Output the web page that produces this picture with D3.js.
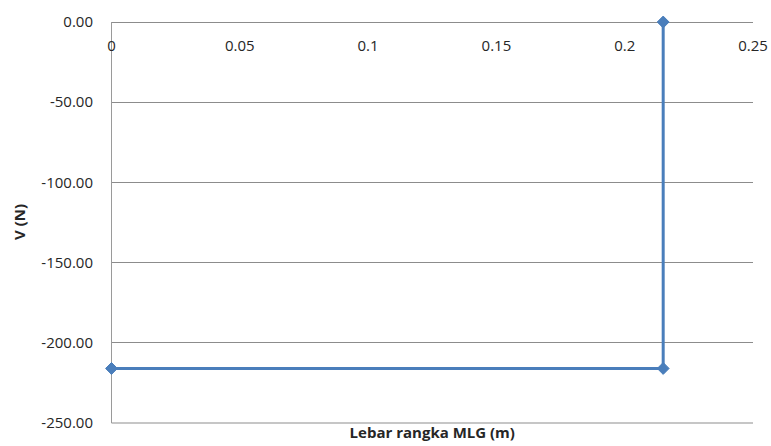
<!DOCTYPE html>
<html>
<head>
<meta charset="utf-8">
<script src="https://cdn.jsdelivr.net/npm/d3@7"></script>
<style>
  html, body { margin: 0; padding: 0; background: #fff; }
  svg text { font-family: "Open Sans", "Liberation Sans", sans-serif; fill: #262626; }
</style>
</head>
<body>
<svg id="chart" width="771" height="446"></svg>
<script>
// Shear force diagram across the MLG frame width
const widthM = [0, 0.215, 0.215];
const shearN = [-216, -216, 0];
const xTicks = [0, 0.05, 0.1, 0.15, 0.2, 0.25];
const xTickLabels = ["0", "0.05", "0.1", "0.15", "0.2", "0.25"];
const yTicks = [0, -50, -100, -150, -200, -250];
const xTitle = "Lebar rangka MLG (m)";
const yTitle = "V (N)";

const svg = d3.select("#chart");
const plotLeft = 111.5, plotRight = 753, plotTop = 22, plotBottom = 423;

const x = d3.scaleLinear().domain([0, 0.25]).range([plotLeft, plotRight]);
const y = d3.scaleLinear().domain([-250, 0]).range([plotBottom, plotTop]);

// Horizontal gridlines
svg.append("g").selectAll("line").data(yTicks.filter(v => v !== -250)).join("line")
  .attr("x1", plotLeft).attr("x2", plotRight)
  .attr("y1", d => y(d)).attr("y2", d => y(d))
  .attr("stroke", "#8c8c8c").attr("stroke-width", 1).attr("shape-rendering", "crispEdges");

// Bottom boundary of the plot
svg.append("line")
  .attr("x1", plotLeft).attr("x2", plotRight).attr("y1", y(-250)).attr("y2", y(-250))
  .attr("stroke", "#c6c6c6").attr("stroke-width", 2);

// Vertical axis line
svg.append("line")
  .attr("x1", x(0)).attr("x2", x(0)).attr("y1", plotTop).attr("y2", plotBottom)
  .attr("stroke", "#9a9a9a").attr("stroke-width", 1).attr("shape-rendering", "crispEdges");

// Y tick labels
svg.append("g").selectAll("text").data(yTicks).join("text")
  .attr("x", 93).attr("y", d => y(d))
  .attr("dy", "0.35em").attr("text-anchor", "end")
  .attr("font-size", 15)
  .text(d => d3.format(".2f")(d).replace("\u2212", "-"));

// X tick labels sit just below the zero line
svg.append("g").selectAll("text").data(xTicks).join("text")
  .attr("x", d => x(d)).attr("y", 46)
  .attr("dy", "0.35em").attr("text-anchor", "middle")
  .attr("font-size", 15)
  .text((d, i) => xTickLabels[i]);

// Series line
const pts = widthM.map((w, i) => [w, shearN[i]]);
svg.append("path")
  .datum(pts)
  .attr("fill", "none")
  .attr("stroke", "#4a7ebb")
  .attr("stroke-width", 3)
  .attr("stroke-linejoin", "round")
  .attr("d", d3.line().x(d => x(d[0])).y(d => y(d[1])));

// Diamond markers
svg.append("g").selectAll("path").data(pts).join("path")
  .attr("transform", d => `translate(${x(d[0])},${y(d[1])})`)
  .attr("d", d3.symbol().type(d3.symbolDiamond2).size(90))
  .attr("fill", "#4a7ebb").attr("stroke", "#4a7ebb").attr("stroke-width", 1);

// Axis titles
svg.append("text")
  .attr("x", (plotLeft + plotRight) / 2).attr("y", 438)
  .attr("text-anchor", "middle").attr("font-size", 15).attr("font-weight", "bold")
  .text(xTitle);

svg.append("text")
  .attr("transform", "translate(20,222) rotate(-90)")
  .attr("dy", "0.35em")
  .attr("text-anchor", "middle").attr("font-size", 15).attr("font-weight", "bold")
  .text(yTitle);
</script>
</body>
</html>
